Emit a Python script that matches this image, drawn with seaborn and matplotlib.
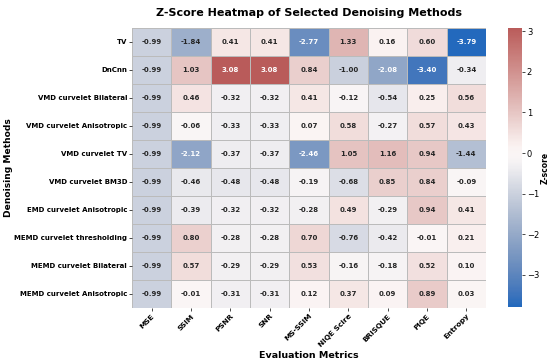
import numpy as np
import pandas as pd
import matplotlib
matplotlib.use("Agg")
import matplotlib.pyplot as plt
import seaborn as sns

# ---------------------------------------------------
# DATA
# ---------------------------------------------------

methods = [
    "TV", "DnCnn", "VMD curvelet Bilateral", "VMD curvelet Anisotropic",
    "VMD curvelet TV", "VMD curvelet BM3D", "EMD curvelet Anisotropic",
    "MEMD curvelet thresholding", "MEMD curvelet Bilateral",
    "MEMD curvelet Anisotropic",
]
metrics = ["MSE", "SSIM", "PSNR", "SNR", "MS-SSIM", "NIQE Scire",
           "BRISQUE", "PIQE", "Entropy"]

tv = [-0.99, -1.84, 0.41, 0.41, -2.77, 1.33, 0.16, 0.60, -3.79]
dncnn = [-0.99, 1.03, 3.08, 3.08, 0.84, -1.00, -2.08, -3.40, -0.34]
vmd_bilateral = [-0.99, 0.46, -0.32, -0.32, 0.41, -0.12, -0.54, 0.25, 0.56]
vmd_aniso = [-0.99, -0.06, -0.33, -0.33, 0.07, 0.58, -0.27, 0.57, 0.43]
vmd_tv = [-0.99, -2.12, -0.37, -0.37, -2.46, 1.05, 1.16, 0.94, -1.44]
vmd_bm3d = [-0.99, -0.46, -0.48, -0.48, -0.19, -0.68, 0.85, 0.84, -0.09]
emd_aniso = [-0.99, -0.39, -0.32, -0.32, -0.28, 0.49, -0.29, 0.94, 0.41]
memd_thresh = [-0.99, 0.80, -0.28, -0.28, 0.70, -0.76, -0.42, -0.01, 0.21]
memd_bilateral = [-0.99, 0.57, -0.29, -0.29, 0.53, -0.16, -0.18, 0.52, 0.10]
memd_aniso = [-0.99, -0.01, -0.31, -0.31, 0.12, 0.37, 0.09, 0.89, 0.03]

df = pd.DataFrame(
    [tv, dncnn, vmd_bilateral, vmd_aniso, vmd_tv, vmd_bm3d,
     emd_aniso, memd_thresh, memd_bilateral, memd_aniso],
    index=methods, columns=metrics,
)

# ---------------------------------------------------
# PLOT
# ---------------------------------------------------

W, H = 550, 361
fig = plt.figure(figsize=(W / 100, H / 100), dpi=100)
ax = fig.add_axes([132 / W, 1 - 308 / H, 354 / W, 280 / H])
cax = fig.add_axes([508 / W, 1 - 307 / H, 14 / W, 279 / H])

sns.heatmap(
    df, ax=ax, cbar_ax=cax, cmap="vlag", center=0,
    annot=True, fmt=".2f",
    annot_kws={"size": 5, "weight": "bold"},
    linewidths=0.5, linecolor="#bbbbbb",
)

ax.set_title("Z-Score Heatmap of Selected Denoising Methods",
             fontsize=8, fontweight="bold", pad=9)
ax.set_xlabel("Evaluation Metrics", fontsize=6.8, fontweight="bold", labelpad=2)
ax.set_ylabel("Denoising Methods", fontsize=6.6, fontweight="bold", labelpad=1)

ax.set_xticklabels(ax.get_xticklabels(), rotation=45, ha="right",
                   rotation_mode="anchor", fontsize=5.3, fontweight="bold")
ax.set_yticklabels(ax.get_yticklabels(), rotation=0, fontsize=5.0,
                   fontweight="bold")
ax.tick_params(axis="both", length=2, width=0.5, pad=1.5)

cax.tick_params(labelsize=6, length=2, width=0.5, pad=1.5)
cax.set_ylabel("Z-score", fontsize=5.5, fontweight="bold", labelpad=1)

fig.savefig("out.png", dpi=100)
plt.close(fig)
